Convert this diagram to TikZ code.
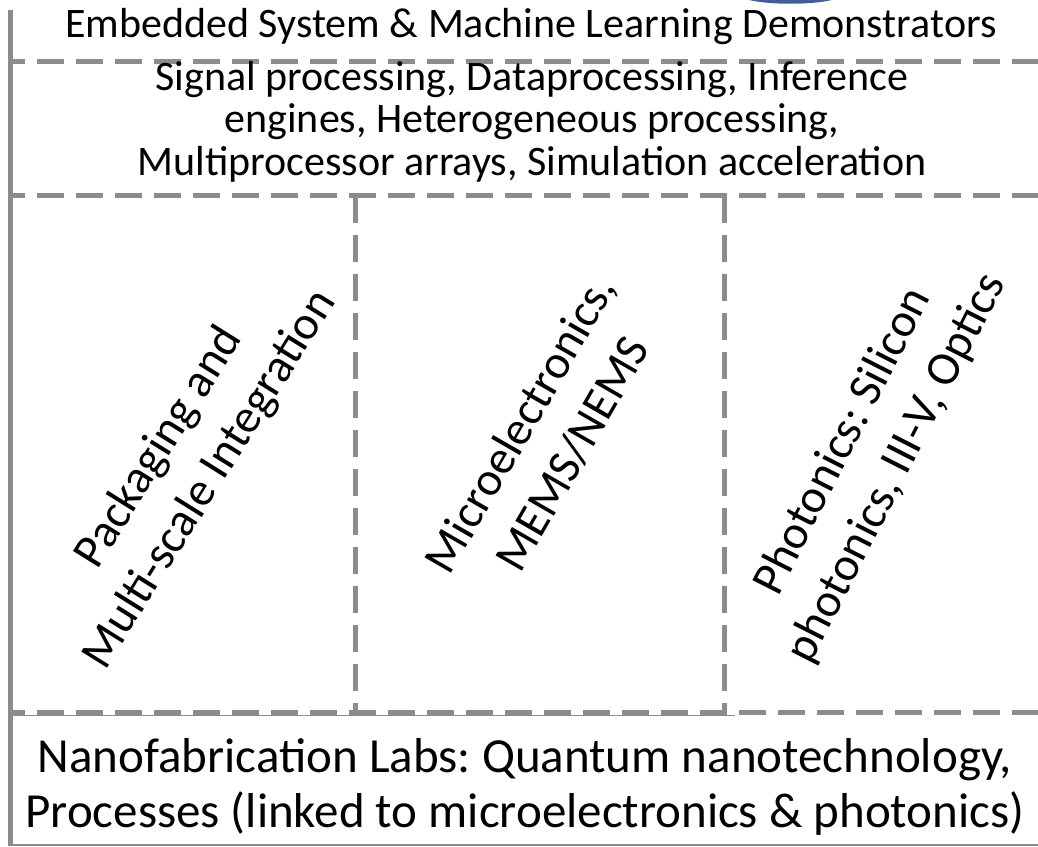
\documentclass[tikz,border=0pt]{standalone}
\usepackage{fontspec}
\setmainfont{Carlito}
\frenchspacing
\definecolor{lgray}{RGB}{140,140,140}
\definecolor{blobblue}{RGB}{60,95,160}
\begin{document}
\begin{tikzpicture}[x=1pt,y=-1pt,
  dline/.style={draw=lgray, line width=5pt, dash pattern=on 27pt off 12pt},
  sline/.style={draw=lgray},
  toptext/.style={font=\fontsize{42}{46}\selectfont, anchor=base, inner sep=0pt},
  midtext/.style={font=\fontsize{42}{42.5}\selectfont, align=center, anchor=base, inner sep=0pt},
  bottext/.style={font=\fontsize{49}{55}\selectfont, align=center, anchor=base, inner sep=0pt},
  coltext/.style={font=\fontsize{47.5}{60}\selectfont, align=center, inner sep=0pt}]
\useasboundingbox (0,0) rectangle (1038,846);
% partly visible blue shape at the top edge
\coordinate (bb1) at (749,0);
\coordinate (bb2) at (832,0);
\fill[blobblue] (bb1) .. controls (770,5) and (811,5) .. (bb2) -- cycle;
% frame lines
\coordinate (lt) at (10.5,10);
\coordinate (lb) at (10.5,846);
\draw[sline, line width=5pt] (lt) -- (lb);
\coordinate (bl) at (8,845);
\coordinate (br) at (1038,845);
\draw[sline, line width=2pt] (bl) -- (br);
% horizontal dashed
\coordinate (h1l) at (13,61.5);  \coordinate (h1r) at (1038,61.5);
\coordinate (h2l) at (13,195.5); \coordinate (h2r) at (1038,195.5);
\coordinate (h3l) at (13,712);   \coordinate (h3r) at (1038,712);
\draw[dline, dash phase=15pt] (h1l) -- (h1r);
\draw[dline, dash phase=15pt] (h2l) -- (h2r);
\draw[dline, dash phase=15pt] (h3l) -- (h3r);
\coordinate (t3l) at (13,715.5); \coordinate (t3r) at (735,715.5);
\draw[sline, line width=1.5pt] (t3l) -- (t3r);
% vertical dashed
\coordinate (v1t) at (355,195.5); \coordinate (v1b) at (355,712);
\coordinate (v2t) at (724,195.5); \coordinate (v2b) at (724,712);
\draw[dline] (v1t) -- (v1b);
\draw[dline] (v2t) -- (v2b);
% texts
\node[toptext] (top) at (531,37) {Embedded System \& Machine Learning Demonstrators};
\node[midtext] (mid) at (532,175) {Signal processing, Dataprocessing, Inference\\engines, Heterogeneous processing,\\Multiprocessor arrays, Simulation acceleration};
\node[coltext, rotate=58] (pack) at (185,464) {Packaging and\\Multi-scale Integration};
\node[coltext, rotate=60] (micro) at (546,439) {Microelectronics,\\MEMS/NEMS};
\node[coltext, rotate=63] (phot) at (870,455) {Photonics: Silicon\\photonics, III-V, Optics};
\node[bottext] (nano) at (525,827) {Nanofabrication Labs: Quantum nanotechnology,\\Processes (linked to microelectronics \& photonics)};
\end{tikzpicture}
\end{document}
